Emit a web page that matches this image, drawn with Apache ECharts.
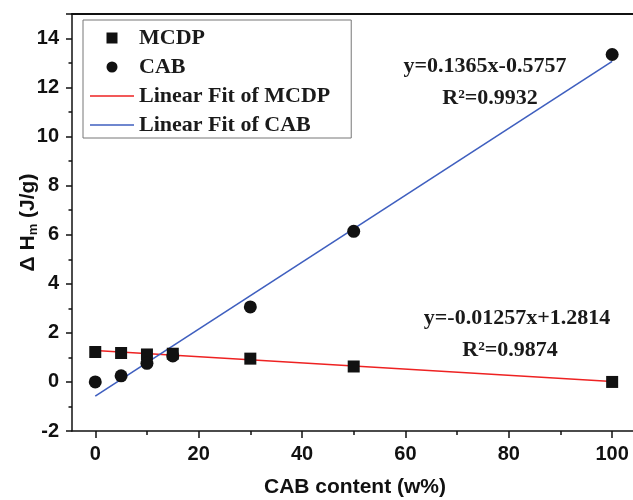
<!DOCTYPE html>
<html>
<head>
<meta charset="utf-8">
<script src="https://cdn.jsdelivr.net/npm/echarts@6/dist/echarts.min.js"></script>
<style>html,body{margin:0;padding:0;background:#fff;}#c{width:633px;height:500px;}</style>
</head>
<body>
<div id="c"></div>
<script>
const xValues = [0, 5, 10, 15, 30, 50, 100];
const mcdpValues = [1.22, 1.18, 1.12, 1.15, 0.95, 0.63, 0.0];
const cabValues = [0.0, 0.25, 0.76, 1.06, 3.06, 6.14, 13.35];
const fitX = [0, 100];
const fitMCDP = [1.28, 0.02];
const fitCAB = [-0.58, 13.07];
const xMajorTicks = [0, 20, 40, 60, 80, 100];
const xMinorTicks = [10, 30, 50, 70, 90];

const pairs = (xs, ys) => xs.map((x, i) => [x, ys[i]]);
const SANS = 'Liberation Sans';
const SERIF = 'Liberation Serif';
const INK = '#111';
const RED = '#ee2222';
const BLUE = '#3f5fbf';

const chart = echarts.init(document.getElementById('c'), null, { renderer: 'canvas' });
chart.setOption({
  backgroundColor: '#fff',
  animation: false,
  grid: { left: 72, top: 14, width: 566, height: 417, containLabel: false, outerBoundsMode: 'none' },
  legend: {
    left: 83, top: 20, orient: 'vertical',
    itemWidth: 44, itemHeight: 11, itemGap: 7,
    padding: [7, 21, 2, 7],
    borderColor: '#777', borderWidth: 1,
    textStyle: { fontFamily: SERIF, fontWeight: 'bold', fontSize: 22, color: '#1a1a1a', lineHeight: 22 },
    data: [
      { name: 'MCDP', icon: 'path://M0,0h10v10h-10z' },
      { name: 'CAB', icon: 'circle' },
      { name: 'Linear Fit of MCDP', icon: 'path://M0,0h44v1.6h-44z', itemStyle: { color: RED } },
      { name: 'Linear Fit of CAB', icon: 'path://M0,0h44v1.6h-44z', itemStyle: { color: BLUE } }
    ]
  },
  xAxis: [
    {
      type: 'value', position: 'bottom', min: -4.5, max: 105,
      name: 'CAB content (w%)', nameLocation: 'middle', nameGap: 46,
      nameTextStyle: { fontFamily: SANS, fontWeight: 'bold', fontSize: 21, color: INK },
      axisLine: { show: true, onZero: false, lineStyle: { color: INK, width: 1.5 } },
      axisTick: { show: true, length: 7, customValues: xMajorTicks, lineStyle: { color: INK, width: 1.5 } },
      axisLabel: { customValues: xMajorTicks, margin: 13, fontFamily: SANS, fontWeight: 'bold', fontSize: 20, color: INK },
      splitLine: { show: false }
    },
    {
      type: 'value', position: 'bottom', min: -4.5, max: 105,
      axisLine: { show: false, onZero: false },
      axisTick: { show: true, length: 4, customValues: xMinorTicks, lineStyle: { color: INK, width: 1.5 } },
      axisLabel: { show: false },
      splitLine: { show: false }
    },
    {
      type: 'value', position: 'top', min: -4.5, max: 105,
      axisLine: { show: true, onZero: false, lineStyle: { color: INK, width: 2 } },
      axisTick: { show: false },
      axisLabel: { show: false },
      splitLine: { show: false }
    }
  ],
  yAxis: {
    type: 'value', min: -2, max: 15, interval: 2,
    name: 'Δ H{m|m} (J/g)', nameLocation: 'middle', nameGap: 32, nameRotate: 90, nameMoveOverlap: false,
    nameTextStyle: {
      fontFamily: SANS, fontWeight: 'bold', fontSize: 21, color: INK,
      rich: { m: { fontFamily: SANS, fontWeight: 'bold', fontSize: 13, color: INK, verticalAlign: 'bottom', padding: [10, 0, 0, 0] } }
    },
    axisLine: { show: true, onZero: false, lineStyle: { color: INK, width: 1.5 } },
    axisTick: { show: true, length: 6, lineStyle: { color: INK, width: 1.5 } },
    minorTick: { show: true, splitNumber: 2, length: 3.5, lineStyle: { color: INK, width: 1.5 } },
    axisLabel: { margin: 13, showMaxLabel: false, fontFamily: SANS, fontWeight: 'bold', fontSize: 20, color: INK },
    splitLine: { show: false },
    minorSplitLine: { show: false }
  },
  series: [
    {
      name: 'Linear Fit of MCDP', type: 'line', xAxisIndex: 0, symbol: 'none',
      lineStyle: { color: RED, width: 1.6 }, itemStyle: { color: RED },
      data: pairs(fitX, fitMCDP), z: 2
    },
    {
      name: 'Linear Fit of CAB', type: 'line', xAxisIndex: 0, symbol: 'none',
      lineStyle: { color: BLUE, width: 1.6 }, itemStyle: { color: BLUE },
      data: pairs(fitX, fitCAB), z: 2
    },
    {
      name: 'MCDP', type: 'scatter', xAxisIndex: 0, symbol: 'rect', symbolSize: 12,
      itemStyle: { color: INK, opacity: 1 }, data: pairs(xValues, mcdpValues), z: 3
    },
    {
      name: 'CAB', type: 'scatter', xAxisIndex: 0, symbol: 'circle', symbolSize: 13,
      itemStyle: { color: INK, opacity: 1 }, data: pairs(xValues, cabValues), z: 3
    }
  ],
  graphic: [
    { type: 'text', x: 485, y: 66, style: { text: 'y=0.1365x-0.5757', fill: '#1a1a1a', font: 'bold 22px "Liberation Serif"', textAlign: 'center', textVerticalAlign: 'middle' } },
    { type: 'text', x: 490, y: 98, style: { text: 'R²=0.9932', fill: '#1a1a1a', font: 'bold 22px "Liberation Serif"', textAlign: 'center', textVerticalAlign: 'middle' } },
    { type: 'text', x: 517, y: 318, style: { text: 'y=-0.01257x+1.2814', fill: '#1a1a1a', font: 'bold 22px "Liberation Serif"', textAlign: 'center', textVerticalAlign: 'middle' } },
    { type: 'text', x: 510, y: 350, style: { text: 'R²=0.9874', fill: '#1a1a1a', font: 'bold 22px "Liberation Serif"', textAlign: 'center', textVerticalAlign: 'middle' } }
  ]
});
</script>
</body>
</html>
